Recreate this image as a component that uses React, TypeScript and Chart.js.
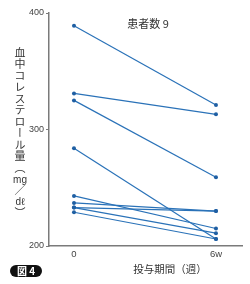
import React, { useEffect, useRef } from "react";
import { Chart, registerables } from "chart.js";

Chart.register(...registerables);

// Data (cholesterol mg/dl) for 9 patients at week 0 and week 6
const weeks = [0, 6];
const week0Values = [389, 331, 325, 284, 243, 237, 233, 233, 229];
const week6Values = [321, 313, 259, 206, 215, 230, 230, 211, 206];
const xTickValues = [0, 6];
const xTickLabels = ["0", "6w"];
const yTickValues = [200, 300, 400];

const LINE_COLOR = "#2a72b8";
const POINT_COLOR = "#1f5fa3";
const AXIS_COLOR = "#7a7a7a";
const TEXT_COLOR = "#444";

export default function App() {
  const canvasRef = useRef<HTMLCanvasElement | null>(null);

  useEffect(() => {
    const prevMargin = document.body.style.margin;
    document.body.style.margin = "0";
    const canvas = canvasRef.current;
    if (!canvas) return;
    const datasets = week0Values.map((v0, i) => ({
      label: "患者" + (i + 1),
      data: [
        { x: weeks[0], y: v0 },
        { x: weeks[1], y: week6Values[i] },
      ],
      borderColor: LINE_COLOR,
      backgroundColor: POINT_COLOR,
      pointBackgroundColor: POINT_COLOR,
      pointBorderColor: POINT_COLOR,
      borderWidth: 1.2,
      pointRadius: 2,
      pointBorderWidth: 0,
      showLine: true,
      tension: 0,
    }));
    const chart = new Chart(canvas, {
      type: "scatter",
      data: { datasets },
      options: {
        animation: false,
        responsive: false,
        maintainAspectRatio: false,
        layout: { padding: { top: 13, right: 8, left: 0, bottom: 0 } },
        plugins: {
          legend: { display: false },
          tooltip: { enabled: false },
          title: { display: false },
        },
        scales: {
          x: {
            type: "linear",
            min: -1.056,
            max: 7.1,
            afterBuildTicks: (scale: any) => {
              scale.ticks = xTickValues.map((v) => ({ value: v }));
            },
            afterFit: (scale: any) => {
              scale.height = 38;
            },
            ticks: {
              autoSkip: false,
              maxRotation: 0,
              padding: 1,
              color: TEXT_COLOR,
              font: { family: "'Liberation Sans Narrow', 'Liberation Sans', Arial, sans-serif", size: 9.5 },
              callback: (value: any) => {
                const idx = xTickValues.indexOf(Number(value));
                return idx >= 0 ? xTickLabels[idx] : "";
              },
            },
            grid: { display: true, drawOnChartArea: false, drawTicks: true, tickLength: 2, color: "rgba(0,0,0,0)" },
            border: { display: true, color: AXIS_COLOR, width: 1.5 },
          },
          y: {
            type: "linear",
            min: 200,
            max: 400,
            afterBuildTicks: (scale: any) => {
              scale.ticks = yTickValues.map((v) => ({ value: v }));
            },
            afterFit: (scale: any) => {
              scale.width = 49;
            },
            ticks: {
              padding: 2,
              color: TEXT_COLOR,
              font: { family: "'Liberation Sans Narrow', 'Liberation Sans', Arial, sans-serif", size: 9 },
            },
            grid: { display: true, drawOnChartArea: false, drawTicks: true, tickLength: 3, color: AXIS_COLOR },
            border: { display: true, color: AXIS_COLOR, width: 1.5 },
          },
        },
      },
    });
    return () => {
      chart.destroy();
      document.body.style.margin = prevMargin;
    };
  }, []);

  const jp = "'Noto Sans CJK JP', 'Noto Sans', sans-serif";
  const upright: React.CSSProperties = {
    display: "inline-block",
    writingMode: "horizontal-tb",
    fontFamily: "'Liberation Sans', Arial, sans-serif",
    fontSize: 10,
    lineHeight: "11px",
    letterSpacing: 0,
  };

  return (
    <div style={{ position: "absolute", left: 0, top: 0, width: 250, height: 284, background: "#fff", overflow: "hidden" }}>
      <canvas ref={canvasRef} width={250} height={284} style={{ position: "absolute", left: 0, top: 0, width: 250, height: 284 }} />
      <div
        style={{
          position: "absolute",
          left: 13,
          top: 47,
          writingMode: "vertical-rl",
          fontFamily: jp,
          fontSize: 11,
          lineHeight: "13px",
          letterSpacing: 0.5,
          color: "#333",
          whiteSpace: "nowrap",
        }}
      >
        血中コレステロール量（<span style={upright}>mg</span>／<span style={upright}>dℓ</span>）
      </div>
      <div
        style={{
          position: "absolute",
          left: 118,
          top: 15,
          width: 60,
          textAlign: "center",
          fontFamily: jp,
          fontSize: 11,
          lineHeight: "16px",
          color: "#333",
        }}
      >
        患者数 9
      </div>
      <div
        style={{
          position: "absolute",
          left: 120,
          top: 261,
          width: 100,
          textAlign: "center",
          fontFamily: jp,
          fontSize: 10.5,
          lineHeight: "16px",
          color: "#333",
        }}
      >
        投与期間（週）
      </div>
      <div
        style={{
          position: "absolute",
          left: 10,
          top: 265,
          width: 32,
          height: 12,
          borderRadius: 6,
          background: "#111",
          color: "#fff",
          fontFamily: jp,
          fontSize: 10,
          fontWeight: 700,
          lineHeight: "12px",
          textAlign: "center",
        }}
      >
        図 4
      </div>
    </div>
  );
}
